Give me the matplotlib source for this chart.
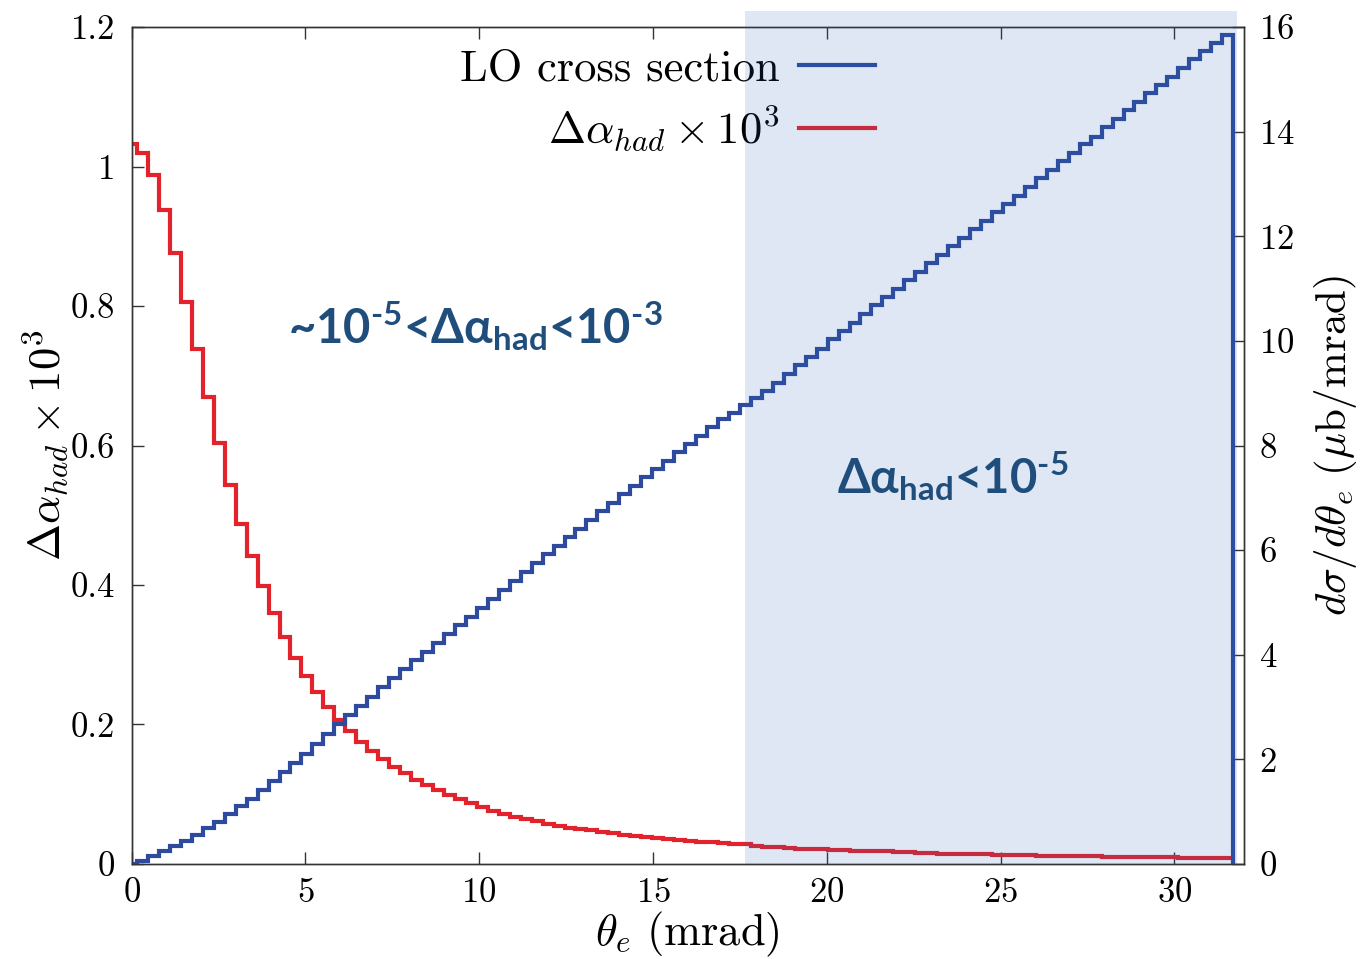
import numpy as np
import matplotlib
matplotlib.use("Agg")
import matplotlib.pyplot as plt
from matplotlib.lines import Line2D

# theta_e grid (mrad), one point per histogram bin
theta = np.linspace(0.0, 31.53, 101)

# LO cross section dsigma/dtheta_e (mub/mrad), right axis
lo_xsec = [0.00, 0.06, 0.15, 0.24, 0.34, 0.44, 0.55, 0.68, 0.81, 0.95,
           1.10, 1.25, 1.42, 1.58, 1.75, 1.93, 2.11, 2.29, 2.48, 2.68,
           2.85, 3.02, 3.20, 3.38, 3.55, 3.72, 3.90, 4.06, 4.23, 4.40,
           4.57, 4.73, 4.90, 5.07, 5.24, 5.41, 5.58, 5.75, 5.92, 6.08,
           6.25, 6.41, 6.58, 6.74, 6.90, 7.07, 7.23, 7.39, 7.55, 7.71,
           7.87, 8.03, 8.19, 8.35, 8.50, 8.63, 8.77, 8.90, 9.05, 9.20,
           9.37, 9.53, 9.69, 9.85, 10.03, 10.19, 10.35, 10.51, 10.68, 10.84,
           11.00, 11.16, 11.32, 11.49, 11.64, 11.81, 11.96, 12.14, 12.29, 12.46,
           12.62, 12.77, 12.94, 13.12, 13.26, 13.44, 13.59, 13.76, 13.90, 14.08,
           14.25, 14.41, 14.57, 14.73, 14.89, 15.05, 15.22, 15.39, 15.55, 15.70, 15.84]

# delta alpha_had x 10^3, left axis
dalpha_had = [1.032, 1.020, 0.988, 0.938, 0.876, 0.806, 0.738, 0.669, 0.603, 0.543,
              0.488, 0.442, 0.399, 0.360, 0.325, 0.296, 0.270, 0.246, 0.225, 0.206,
              0.190, 0.175, 0.162, 0.150, 0.139, 0.130, 0.121, 0.113, 0.106, 0.099,
              0.093, 0.087, 0.081, 0.076, 0.072, 0.068, 0.064, 0.061, 0.058, 0.055,
              0.052, 0.050, 0.048, 0.046, 0.044, 0.042, 0.040, 0.039, 0.037, 0.036,
              0.034, 0.033, 0.032, 0.031, 0.030, 0.029, 0.028, 0.026, 0.025, 0.024,
              0.023, 0.022, 0.022, 0.021, 0.020, 0.020, 0.019, 0.019, 0.018, 0.018,
              0.017, 0.017, 0.016, 0.016, 0.015, 0.015, 0.0145, 0.014, 0.014, 0.0135,
              0.013, 0.013, 0.0125, 0.012, 0.012, 0.0115, 0.0115, 0.011, 0.011, 0.0105,
              0.0105, 0.010, 0.010, 0.0098, 0.0095, 0.0093, 0.0091, 0.0089, 0.0087, 0.0085, 0.0083]

shade_from, shade_to = 17.65, 31.81

plt.rcParams['font.family'] = 'serif'
plt.rcParams['font.serif'] = ['cmr10', 'DejaVu Serif']
plt.rcParams['mathtext.fontset'] = 'cm'
plt.rcParams['axes.formatter.use_mathtext'] = True
plt.rcParams['mathtext.rm'] = 'Lato:bold'
plt.rcParams['mathtext.it'] = 'Lato:bold'
plt.rcParams['mathtext.bf'] = 'Lato:bold'

RED = '#e3232c'
BLUE = '#2e4a9e'
NAVY = '#1f4e7c'

# histeps-like edges: steps change halfway between points
w = theta[1] - theta[0]
edges = np.concatenate([[0.0], 0.5 * (theta[:-1] + theta[1:]), [theta[-1] + 0.5 * w]])

fig = plt.figure(figsize=(13.63, 9.59), dpi=100)
ax = fig.add_axes([0.0965, 0.0991, 0.8162, 0.8727])
ax2 = ax.twinx()

ax.stairs(dalpha_had, edges, baseline=None, color=RED, lw=3.0, zorder=2)
ax2.stairs(lo_xsec, edges, baseline=0, color=BLUE, lw=3.0, zorder=2)

ax.set_xlim(0, 32)
ax.set_ylim(0, 1.2)
ax2.set_ylim(0, 16)
ax.set_xticks([0, 5, 10, 15, 20, 25, 30])
ax.set_yticks([0, 0.2, 0.4, 0.6, 0.8, 1.0, 1.2])
ax.set_yticklabels(['0', '0.2', '0.4', '0.6', '0.8', '1', '1.2'])
ax2.set_yticks(range(0, 17, 2))

ax.tick_params(axis='x', direction='in', length=8.6, width=1, top=True,
               labelsize=25, pad=10, color='#333333')
ax.tick_params(axis='y', direction='in', length=8.6, width=1, right=False,
               labelsize=25, pad=12, color='#333333')
ax2.tick_params(axis='y', direction='in', length=8.6, width=1,
                labelsize=25, pad=11, color='#333333')
for a in (ax, ax2):
    for s in a.spines.values():
        s.set_color('#333333')
        s.set_linewidth(1.0)

ax.set_xlabel(r'$\theta_e\ \mathrm{(mrad)}$', fontsize=32, labelpad=0)
ax.set_ylabel(r'$\Delta\alpha_{had}\times 10^{3}$', fontsize=32, labelpad=0)
ax2.set_ylabel(r'$d\sigma/d\theta_e\ (\mu\mathrm{b/mrad})$', fontsize=31, labelpad=12)

handles = [Line2D([], [], color=BLUE, lw=3.0), Line2D([], [], color=RED, lw=3.0)]
labels = ['LO cross section', r'$\Delta\alpha_{had}\times 10^{3}$']
leg = ax2.legend(handles, labels, loc='upper right', bbox_to_anchor=(0.642, 0.948),
                 bbox_transform=fig.transFigure, markerfirst=False, frameon=False,
                 fontsize=32, handlelength=1.7, handletextpad=0.45,
                 labelspacing=0.3, borderpad=0, borderaxespad=0)
leg.set_zorder(2.6)

# shaded region, semi-transparent over the curves
ax2.axvspan(shade_from, shade_to, ymin=0, ymax=1.019, color='#235faf', alpha=0.15,
            lw=0, zorder=3, clip_on=False)

ax.text(4.5, 0.7465, '~10$^{\u2010 5}$<Δα$_{\\mathrm{had}}$<10$^{\u2010 3}$',
        fontsize=34, fontweight='bold', family=['Lato', 'Open Sans', 'DejaVu Sans'],
        color=NAVY, math_fontfamily='custom', ha='left', va='baseline', zorder=6)
ax2.text(20.29, 0.531 * 16 / 1.2, 'Δα$_{\\mathrm{had}}$<10$^{\u2010 5}$',
         fontsize=34, fontweight='bold', family=['Lato', 'Open Sans', 'DejaVu Sans'],
         color=NAVY, math_fontfamily='custom', ha='left', va='baseline', zorder=6)

fig.savefig('out.png', dpi=100)
